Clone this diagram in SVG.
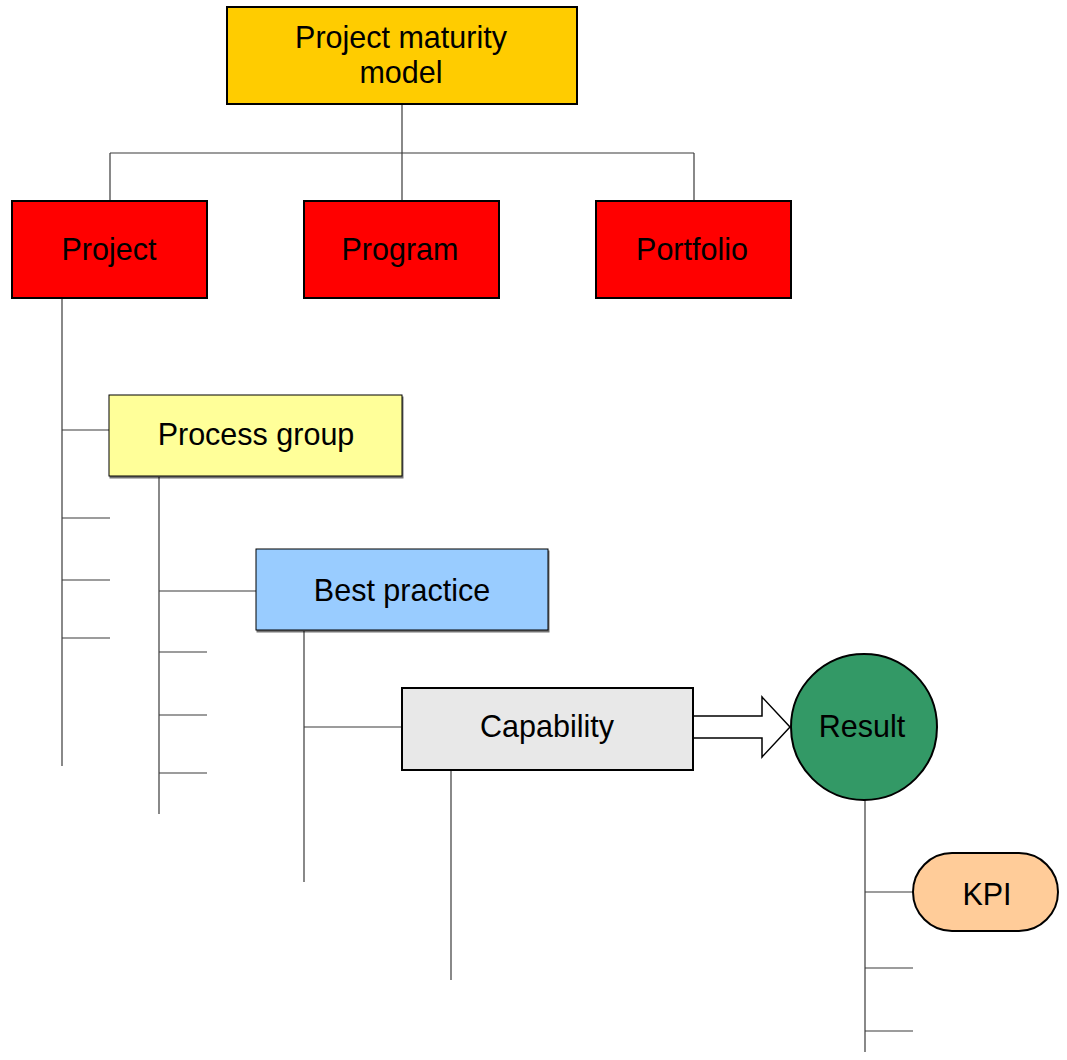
<svg xmlns="http://www.w3.org/2000/svg" width="1067" height="1060" viewBox="0 0 1067 1060">
  <style>
    .lbl { font-family: "Liberation Sans", Arial, sans-serif; font-size: 30.5px; fill: #000; text-anchor: middle; dominant-baseline: central; }
    .box { stroke: #000; stroke-width: 2; }
    .thin { stroke: #000; stroke-width: 1; }
    .conn line { stroke: #3a3a3a; stroke-width: 1.2; }
  </style>
  <defs>
    <filter id="shadow" x="-5%" y="-5%" width="110%" height="115%">
      <feDropShadow dx="1" dy="2" stdDeviation="0.6" flood-color="#000" flood-opacity="0.55"/>
    </filter>
  </defs>
  <rect width="1067" height="1060" fill="#fff"/>

  <!-- connectors -->
  <g class="conn" id="connectors">
    <line x1="402" y1="104" x2="402" y2="153"/>
    <line x1="110" y1="153" x2="694" y2="153"/>
    <line x1="110" y1="153" x2="110" y2="201"/>
    <line x1="402" y1="153" x2="402" y2="201"/>
    <line x1="694" y1="153" x2="694" y2="201"/>

    <line x1="62" y1="298" x2="62" y2="766"/>
    <line x1="62" y1="430" x2="109" y2="430"/>
    <line x1="62" y1="518" x2="110" y2="518"/>
    <line x1="62" y1="580" x2="110" y2="580"/>
    <line x1="62" y1="638" x2="110" y2="638"/>

    <line x1="159" y1="477" x2="159" y2="814"/>
    <line x1="159" y1="591" x2="256" y2="591"/>
    <line x1="159" y1="652" x2="207" y2="652"/>
    <line x1="159" y1="715" x2="207" y2="715"/>
    <line x1="159" y1="773" x2="207" y2="773"/>

    <line x1="304" y1="631" x2="304" y2="882"/>
    <line x1="304" y1="727" x2="402" y2="727"/>

    <line x1="451" y1="770" x2="451" y2="980"/>

    <line x1="865" y1="800" x2="865" y2="1052"/>
    <line x1="865" y1="892" x2="913" y2="892"/>
    <line x1="865" y1="968" x2="913" y2="968"/>
    <line x1="865" y1="1031" x2="913" y2="1031"/>

    <!-- block arrow from Capability to Result -->
    <path d="M693,716 H762 V697 L790,727 L762,757 V738 H693 Z" fill="#fff" stroke="#000" stroke-width="1.5"/>
  </g>

  <g id="node-maturity-model">
    <rect class="box" x="227" y="7" width="350" height="97" fill="#FFCC00"/>
    <text class="lbl" x="401" y="37">Project maturity</text>
    <text class="lbl" x="401" y="72">model</text>
  </g>

  <g id="node-project">
    <rect class="box" x="12" y="201" width="195" height="97" fill="#FF0000"/>
    <text class="lbl" x="109" y="249">Project</text>
  </g>
  <g id="node-program">
    <rect class="box" x="304" y="201" width="195" height="97" fill="#FF0000"/>
    <text class="lbl" x="400" y="249">Program</text>
  </g>
  <g id="node-portfolio">
    <rect class="box" x="596" y="201" width="195" height="97" fill="#FF0000"/>
    <text class="lbl" x="692" y="249">Portfolio</text>
  </g>

  <g id="node-process-group">
    <rect class="thin" x="109" y="395" width="293" height="81" fill="#FFFF99" filter="url(#shadow)"/>
    <text class="lbl" x="256" y="434">Process group</text>
  </g>

  <g id="node-best-practice">
    <rect class="thin" x="256" y="549" width="292" height="81" fill="#99CCFF" filter="url(#shadow)"/>
    <text class="lbl" x="402" y="590">Best practice</text>
  </g>

  <g id="node-capability">
    <rect class="box" x="402" y="688" width="291" height="82" fill="#E8E8E8"/>
    <text class="lbl" x="547" y="726">Capability</text>
  </g>

  <g id="node-result">
    <circle class="box" cx="864" cy="727" r="73" fill="#339966"/>
    <text class="lbl" x="862" y="726">Result</text>
  </g>

  <g id="node-kpi">
    <rect class="box" x="913" y="853" width="145" height="78" rx="39" ry="39" fill="#FFCC99"/>
    <text class="lbl" x="987" y="894">KPI</text>
  </g>
</svg>
